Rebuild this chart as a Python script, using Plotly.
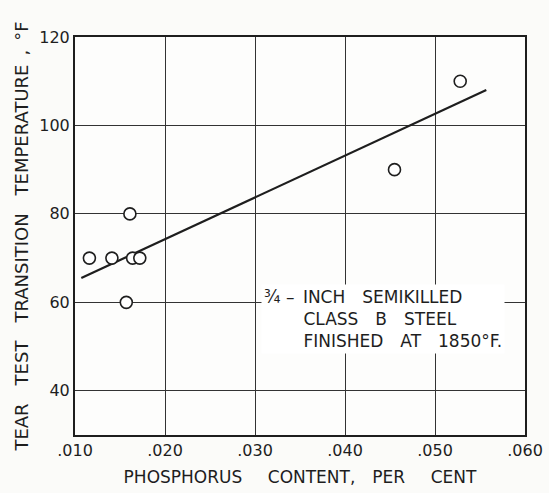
import plotly.graph_objects as go

# Measured tear-test transition temperatures vs phosphorus content
phosphorus = [0.0116, 0.0141, 0.0157, 0.0161, 0.0164, 0.0172, 0.0455, 0.0528]
transition_temp = [70, 70, 60, 80, 70, 70, 90, 110]

# Fitted trend line end points
trend_x = [0.0107, 0.0557]
trend_y = [65.5, 108]

x_ticks = [0.010, 0.020, 0.030, 0.040, 0.050, 0.060]
x_tick_labels = [".010", ".020", ".030", ".040", ".050", ".060"]
y_ticks = [40, 60, 80, 100, 120]
y_tick_labels = ["40", "60", "80", "100", "120"]

ink = "#1e1e1e"
font_family = "DejaVu Sans, Arial, sans-serif"
gap = "\u2002"  # en space for wide, typewriter-like word spacing

fig = go.Figure()

fig.add_trace(go.Scatter(
    x=trend_x, y=trend_y, mode="lines",
    line=dict(color=ink, width=2.2),
    hoverinfo="skip", showlegend=False,
))

fig.add_trace(go.Scatter(
    x=phosphorus, y=transition_temp, mode="markers",
    marker=dict(symbol="circle", size=12, color="white",
                line=dict(color=ink, width=1.6)),
    showlegend=False,
))

note_lines = [
    f"¾ –{gap}INCH{gap}{gap}SEMIKILLED",
    f"{gap*3}{gap} CLASS{gap}{gap}B{gap}{gap}STEEL",
    f"{gap*3}{gap} FINISHED{gap}{gap}AT{gap}{gap}1850°F.",
]
fig.add_annotation(
    x=0.0307, y=64.1, xref="x", yref="y",
    xanchor="left", yanchor="top", align="left",
    text="<br>".join(note_lines),
    showarrow=False, bgcolor="white", borderpad=2,
    font=dict(family=font_family, size=17, color=ink),
)

axis_common = dict(
    showline=True, linecolor=ink, linewidth=2, mirror=True,
    showgrid=True, gridcolor="#333333", gridwidth=1.2,
    zeroline=False, ticks="", automargin=False,
    tickfont=dict(family=font_family, size=16, color=ink),
)

fig.update_xaxes(
    range=[0.010, 0.060], tickvals=x_ticks, ticktext=x_tick_labels,
    title=dict(text=f"PHOSPHORUS{gap*3}CONTENT,{gap*2}PER{gap*3}CENT",
               font=dict(family=font_family, size=17, color=ink), standoff=12),
    **axis_common,
)
fig.update_yaxes(
    range=[30, 120], tickvals=y_ticks, ticktext=y_tick_labels,
    title=dict(text=f"TEAR{gap*2}TEST{gap*2}TRANSITION{gap*2}TEMPERATURE{gap},{gap}°F",
               font=dict(family=font_family, size=18, color=ink), standoff=6),
    **axis_common,
)

fig.update_layout(
    width=549, height=493,
    margin=dict(l=75, r=24, t=37, b=58),
    paper_bgcolor="#fbfbf9", plot_bgcolor="#fdfdfc",
)

fig.write_html("out.html")
